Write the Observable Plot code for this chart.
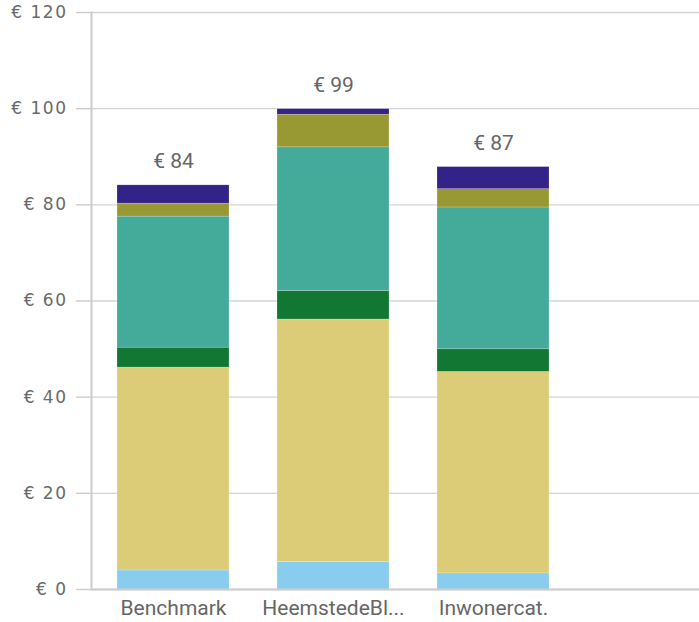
<!DOCTYPE html>
<html>
<head>
<meta charset="utf-8">
<script src="https://cdn.jsdelivr.net/npm/d3@7"></script>
<script src="https://cdn.jsdelivr.net/npm/@observablehq/plot@0.6"></script>
<style>
  html, body { margin: 0; padding: 0; background: #fff; }
  g[aria-label="y-axis tick label"] text { letter-spacing: 1.5px; }
</style>
</head>
<body>
<div id="chart"></div>
<script>
const categories = ["Benchmark", "HeemstedeBl...", "Inwonercat."];
const series = ["Reeks 1", "Reeks 2", "Reeks 3", "Reeks 4", "Reeks 5", "Reeks 6"];
const colors = ["#88CCEE", "#DDCC77", "#117733", "#44AA99", "#999933", "#332288"];
// values per series (bottom to top), one per category
const reeks1 = [3.95, 5.75, 3.35];
const reeks2 = [42.2, 50.4, 41.9];
const reeks3 = [4.15, 5.9, 4.7];
const reeks4 = [27.25, 29.9, 29.5];
const reeks5 = [2.7, 6.8, 3.8];
const reeks6 = [3.8, 1.15, 4.6];
const yTicks = [0, 20, 40, 60, 80, 100, 120];

const seriesValues = [reeks1, reeks2, reeks3, reeks4, reeks5, reeks6];
const data = [];
series.forEach((s, si) => categories.forEach((c, ci) => data.push({cat: c, series: s, value: seriesValues[si][ci]})));
const totals = categories.map((c, ci) => ({cat: c, total: d3.sum(seriesValues, v => v[ci])}));

const chart = Plot.plot({
  width: 699,
  height: 622,
  marginLeft: 91,
  marginRight: 0,
  marginTop: 12,
  marginBottom: 33,
  style: {fontFamily: "Roboto, sans-serif", background: "#fff"},
  x: {domain: categories, range: [92.7, 573.6], paddingInner: 0.3, paddingOuter: 0.15, label: null},
  y: {domain: [0, 120], label: null},
  color: {domain: series, range: colors},
  marks: [
    Plot.gridY(yTicks, {stroke: "#d4d4d4", strokeOpacity: 1, strokeWidth: 1.4}),
    Plot.frame({anchor: "left", stroke: "#cccccc", strokeWidth: 2}),
    Plot.barY(data, {x: "cat", y: "value", fill: "series", order: series, stroke: "#fff", strokeWidth: 0.5, strokeOpacity: 0.4}),
    Plot.ruleY([0], {stroke: "#cccccc", strokeWidth: 2}),
    Plot.axisY(yTicks, {
      tickFormat: d => "€ " + d,
      tickSize: 15, tickPadding: 9,
      stroke: "#cccccc", strokeWidth: 1.4,
      fill: "#6a6a6a", fontSize: 17, fontFamily: "'DejaVu Sans', sans-serif",
      label: null
    }),
    Plot.axisX({tickSize: 0, tickPadding: 11, fill: "#666", fontSize: 21, label: null}),
    Plot.text(totals, {x: "cat", y: "total", text: d => "€ " + Math.floor(d.total), dy: -17, lineAnchor: "bottom", fill: "#666", fontSize: 21})
  ]
});
document.getElementById("chart").appendChild(chart);
</script>
</body>
</html>
